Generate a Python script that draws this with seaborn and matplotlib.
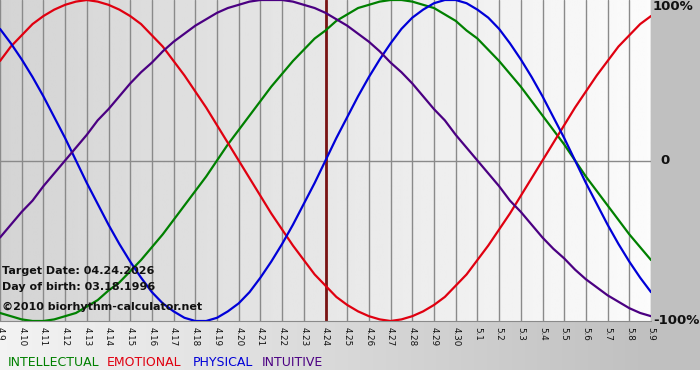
import numpy as np
import pandas as pd
import matplotlib
matplotlib.use("Agg")
import matplotlib.pyplot as plt
import seaborn as sns

# day offsets from the target date (04.24.2026), every half day
days = [i / 2 for i in range(-30, 31)]
tick_days = list(range(-15, 16))
day_labels = ["4.9", "4.10", "4.11", "4.12", "4.13", "4.14", "4.15", "4.16",
              "4.17", "4.18", "4.19", "4.20", "4.21", "4.22", "4.23", "4.24",
              "4.25", "4.26", "4.27", "4.28", "4.29", "4.30", "5.1", "5.2",
              "5.3", "5.4", "5.5", "5.6", "5.7", "5.8", "5.9"]

# cycle values (-1 .. 1), one per half day
intellectual = [-0.95, -0.97, -0.99, -1.00, -1.00, -0.99, -0.97, -0.95, -0.91, -0.87,
                -0.81, -0.76, -0.69, -0.62, -0.54, -0.46, -0.37, -0.28, -0.19, -0.10,
                0.00, 0.10, 0.19, 0.28, 0.37, 0.46, 0.54, 0.62, 0.69, 0.76,
                0.81, 0.87, 0.91, 0.95, 0.97, 0.99, 1.00, 1.00, 0.99, 0.97,
                0.95, 0.91, 0.87, 0.81, 0.76, 0.69, 0.62, 0.54, 0.46, 0.37,
                0.28, 0.19, 0.10, 0.00, -0.10, -0.19, -0.28, -0.37, -0.46, -0.54, -0.62]
emotional = [0.62, 0.71, 0.78, 0.85, 0.90, 0.94, 0.97, 0.99, 1.00, 0.99,
             0.97, 0.94, 0.90, 0.85, 0.78, 0.71, 0.62, 0.53, 0.43, 0.33,
             0.22, 0.11, 0.00, -0.11, -0.22, -0.33, -0.43, -0.53, -0.62, -0.71,
             -0.78, -0.85, -0.90, -0.94, -0.97, -0.99, -1.00, -0.99, -0.97, -0.94,
             -0.90, -0.85, -0.78, -0.71, -0.62, -0.53, -0.43, -0.33, -0.22, -0.11,
             0.00, 0.11, 0.22, 0.33, 0.43, 0.53, 0.62, 0.71, 0.78, 0.85, 0.90]
physical = [0.82, 0.73, 0.63, 0.52, 0.40, 0.27, 0.14, 0.00, -0.14, -0.27,
            -0.40, -0.52, -0.63, -0.73, -0.82, -0.89, -0.94, -0.98, -1.00, -1.00,
            -0.98, -0.94, -0.89, -0.82, -0.73, -0.63, -0.52, -0.40, -0.27, -0.14,
            0.00, 0.14, 0.27, 0.40, 0.52, 0.63, 0.73, 0.82, 0.89, 0.94,
            0.98, 1.00, 1.00, 0.98, 0.94, 0.89, 0.82, 0.73, 0.63, 0.52,
            0.40, 0.27, 0.14, 0.00, -0.14, -0.27, -0.40, -0.52, -0.63, -0.73, -0.82]
intuitive = [-0.48, -0.40, -0.32, -0.25, -0.16, -0.08, 0.00, 0.08, 0.16, 0.25,
             0.32, 0.40, 0.48, 0.55, 0.61, 0.68, 0.74, 0.79, 0.84, 0.88,
             0.92, 0.95, 0.97, 0.99, 1.00, 1.00, 1.00, 0.99, 0.97, 0.95,
             0.92, 0.88, 0.84, 0.79, 0.74, 0.68, 0.61, 0.55, 0.48, 0.40,
             0.32, 0.25, 0.16, 0.08, 0.00, -0.08, -0.16, -0.25, -0.32, -0.40,
             -0.48, -0.55, -0.61, -0.68, -0.74, -0.79, -0.84, -0.88, -0.92, -0.95, -0.97]

cycles = ["INTELLECTUAL", "EMOTIONAL", "PHYSICAL", "INTUITIVE"]
colors = {"INTELLECTUAL": "#008000", "EMOTIONAL": "#e00010",
          "PHYSICAL": "#0000d8", "INTUITIVE": "#4b0082"}

df = pd.DataFrame({
    "day": days * 4,
    "value": intellectual + emotional + physical + intuitive,
    "cycle": sum([[c] * len(days) for c in cycles], []),
})

sns.set_style("white")
plt.rcParams["font.family"] = ["DejaVu Sans"]

W, H = 700, 380
fig = plt.figure(figsize=(W / 100, H / 100), dpi=100)

# outer background: light grey fading to darker grey, white strip at the bottom
bg = fig.add_axes([0, 0, 1, 1], zorder=-5)
xs = np.clip(np.arange(W) / 650.0, 0, 1)
row = 0.955 + (0.753 - 0.955) * xs
img = np.repeat(row[None, :], H, axis=0)
img[370:, :] = 1.0
bg.imshow(np.dstack([img] * 3), extent=(0, W, H, 0), aspect="auto")
bg.set_axis_off()

ax = fig.add_axes([0, 1 - 321 / H, 651 / W, 321 / H])
ax.imshow(np.linspace(0.83, 0.985, 256)[None, :], cmap="gray", vmin=0, vmax=1,
          extent=(tick_days[0], tick_days[-1], -1, 1), aspect="auto", zorder=0)

for d in tick_days:
    ax.axvline(d, color="#8a8a8a", lw=1, zorder=1)
ax.axhline(0, color="#8a8a8a", lw=1, zorder=1)
ax.axvline(0, color="#7a1414", lw=2, zorder=2)

sns.lineplot(data=df, x="day", y="value", hue="cycle", hue_order=cycles,
             palette=colors, lw=1.6, legend=False, ax=ax, zorder=3)

ax.set_xlim(tick_days[0], tick_days[-1])
ax.set_ylim(-1, 1)
ax.set_xticks(tick_days)
ax.set_xticklabels(day_labels, rotation=-90, fontsize=6.3, color="#111111")
ax.tick_params(axis="x", length=3, width=1, color="#8a8a8a", pad=1)
ax.set_yticks([])
ax.set_xlabel("")
ax.set_ylabel("")
for side in ["top", "left", "right"]:
    ax.spines[side].set_visible(False)
ax.spines["bottom"].set_color("#8a8a8a")

def px(x, y):
    return x / W, 1 - y / H

info = [("Target Date: 04.24.2026", 271), ("Day of birth: 03.18.1996", 287),
        ("\u00a92010 biorhythm-calculator.net", 307)]
for s, y in info:
    fig.text(*px(2, y), s, fontsize=8, fontweight="bold", color="#111111", va="center")

for s, y, x in [("100%", 7, 653), ("0", 161, 660), ("-100%", 321, 653)]:
    fig.text(*px(x, y), s, fontsize=9.5, fontweight="bold", color="#111111", va="center")

legend_x = [8, 107, 193, 262]
for c, x in zip(cycles, legend_x):
    fig.text(*px(x, 362), c, fontsize=9, fontweight="medium", color=colors[c], va="center")

fig.savefig("out.png", dpi=100)
